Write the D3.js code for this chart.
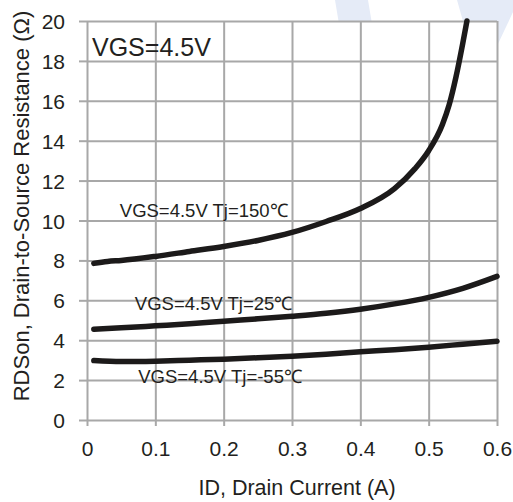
<!DOCTYPE html>
<html>
<head>
<meta charset="utf-8">
<script src="https://cdn.jsdelivr.net/npm/d3@7"></script>
<style>
  html, body { margin: 0; padding: 0; background: #fff; }
  svg { display: block; font-family: "Liberation Sans", Arial, sans-serif; }
</style>
</head>
<body>
<div id="chart"></div>
<script>
// drain current (A) and RDSon (ohm)
const id150 = [0.01, 0.03, 0.05, 0.1, 0.15, 0.2, 0.25, 0.3, 0.35, 0.4, 0.45, 0.48, 0.5, 0.52, 0.53, 0.54, 0.55, 0.556];
const r150 = [7.85, 7.95, 8.0, 8.2, 8.45, 8.7, 9.0, 9.4, 9.95, 10.6, 11.6, 12.6, 13.5, 14.8, 15.8, 17.2, 18.9, 20];

const id25 = [0.01, 0.05, 0.1, 0.15, 0.2, 0.25, 0.3, 0.35, 0.4, 0.45, 0.5, 0.55, 0.6];
const r25 = [4.55, 4.62, 4.72, 4.82, 4.95, 5.07, 5.2, 5.35, 5.55, 5.82, 6.15, 6.6, 7.2];

const idm55 = [0.01, 0.05, 0.1, 0.15, 0.2, 0.25, 0.3, 0.35, 0.4, 0.45, 0.5, 0.55, 0.6];
const rm55 = [2.98, 2.93, 2.95, 3.0, 3.05, 3.12, 3.2, 3.3, 3.42, 3.52, 3.65, 3.8, 3.95];

const xTicks = [0, 0.1, 0.2, 0.3, 0.4, 0.5, 0.6];
const yTicks = [0, 2, 4, 6, 8, 10, 12, 14, 16, 18, 20];

const curveLabels = ["VGS=4.5V Tj=150℃", "VGS=4.5V Tj=25℃", "VGS=4.5V Tj=-55℃"];
const curveLabelAt = [[0.048, 10.2], [0.07, 5.5], [0.075, 1.85]]; // [A, ohm] where each label starts

const config = {
    margin: { top: 21, right: 16, bottom: 82, left: 87 },
    width: 513,
    height: 502,
    grid: "#a8a8a8",
    ink: "#1c1a1a",
    text: "#231f20",
};

const x = d3.scaleLinear([0, 0.6], [config.margin.left, config.width - config.margin.right]);
const y = d3.scaleLinear([0, 20], [config.height - config.margin.bottom, config.margin.top]);

const svg = d3.select("#chart").append("svg")
    .attr("width", config.width)
    .attr("height", config.height)
    .attr("viewBox", [0, 0, config.width, config.height]);

// faint watermark behind the plot
const mark = svg.append("g").attr("fill", "#e5ebf7");
mark.append("polygon").attr("points", "335,0 368,0 378,60 345,60");
mark.append("polygon").attr("points", "457,0 513,0 513,12 497,46 470,46");

svg.append("rect")
    .attr("x", x(0)).attr("y", y(20))
    .attr("width", x(0.6) - x(0)).attr("height", y(0) - y(20))
    .attr("fill", "#fff");

// grid + tick stubs
svg.append("g")
    .attr("transform", `translate(0,${y(0)})`)
    .call(d3.axisBottom(x).tickValues(xTicks).tickSize(6).tickFormat(d3.format(".1~f")))
    .call(g => g.select(".domain").remove())
    .call(g => g.selectAll(".tick line").attr("stroke", config.grid).attr("stroke-width", 2))
    .call(g => g.selectAll(".tick").append("line")
        .attr("stroke", config.grid).attr("stroke-width", 2)
        .attr("y2", y(20) - y(0)))
    .call(g => g.selectAll(".tick text")
        .attr("fill", config.text).attr("font-size", 21).attr("dy", null).attr("y", 36));

svg.append("g")
    .attr("transform", `translate(${x(0)},0)`)
    .call(d3.axisLeft(y).tickValues(yTicks).tickSize(8))
    .call(g => g.select(".domain").remove())
    .call(g => g.selectAll(".tick line").attr("stroke", config.grid).attr("stroke-width", 2))
    .call(g => g.selectAll(".tick").append("line")
        .attr("stroke", config.grid).attr("stroke-width", 2)
        .attr("x2", x(0.6) - x(0)))
    .call(g => g.selectAll(".tick text")
        .attr("fill", config.text).attr("font-size", 21).attr("x", -22).attr("dy", "0.36em"));

// axis titles
svg.append("text")
    .attr("x", 297).attr("y", 495)
    .attr("text-anchor", "middle")
    .attr("font-size", 21.5)
    .attr("fill", config.text)
    .text("ID, Drain Current (A)");

svg.append("text")
    .attr("transform", "translate(29,206) rotate(-90)")
    .attr("text-anchor", "middle")
    .attr("font-size", 22)
    .attr("fill", config.text)
    .text("RDSon, Drain-to-Source Resistance (Ω)");

svg.append("text")
    .attr("x", x(0) + 5).attr("y", y(18.25))
    .attr("font-size", 25)
    .attr("fill", config.text)
    .text("VGS=4.5V");

// curves
const line = d3.line()
    .x(d => x(d[0]))
    .y(d => y(d[1]))
    .curve(d3.curveMonotoneX);

const series = [d3.zip(id150, r150), d3.zip(id25, r25), d3.zip(idm55, rm55)];

svg.append("g")
    .attr("fill", "none")
    .attr("stroke", config.ink)
    .attr("stroke-width", 5.5)
    .attr("stroke-linecap", "round")
    .selectAll("path")
    .data(series)
    .join("path")
    .attr("d", line);

svg.append("g")
    .selectAll("text")
    .data(curveLabels)
    .join("text")
    .attr("x", (_, i) => x(curveLabelAt[i][0]))
    .attr("y", (_, i) => y(curveLabelAt[i][1]))
    .attr("font-size", 18.5)
    .attr("fill", config.text)
    .text(d => d);
</script>
</body>
</html>
